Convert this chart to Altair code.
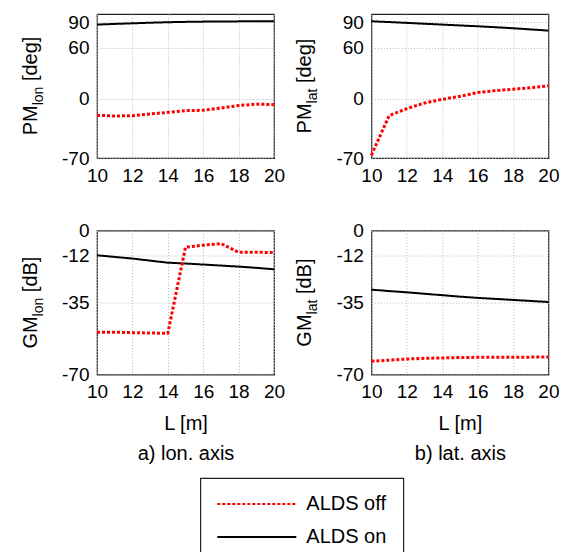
import altair as alt
import pandas as pd

# ---------------- data ----------------
L = list(range(10, 21))
series_names = ["ALDS off", "ALDS on"]

pm_lon_off = [-19.6, -20.4, -20.0, -18.1, -16.1, -14.0, -13.7, -11.0, -8.1, -6.3, -7.0]
pm_lon_on = [87.5, 88.3, 89.0, 89.7, 90.3, 90.7, 91.0, 91.2, 91.3, 91.4, 91.4]
pm_lat_off = [-66.8, -20.0, -11.7, -5.1, -0.7, 2.8, 7.2, 9.6, 11.1, 13.1, 15.0]
pm_lat_on = [91.4, 90.5, 89.5, 88.5, 87.5, 86.5, 85.5, 84.4, 83.2, 81.8, 80.4]
gm_lon_off = [-49.4, -49.4, -49.6, -49.8, -49.9, -8.1, -7.1, -6.3, -10.5, -10.5, -10.7]
gm_lon_on = [-12.0, -12.8, -13.6, -14.6, -15.6, -16.0, -16.5, -17.0, -17.5, -18.1, -18.8]
gm_lat_off = [-63.5, -63.0, -62.4, -62.1, -61.9, -61.7, -61.6, -61.6, -61.6, -61.5, -61.4]
gm_lat_on = [-28.7, -29.4, -30.0, -30.7, -31.4, -32.1, -32.7, -33.2, -33.7, -34.2, -34.7]

x_ticks = [10, 12, 14, 16, 18, 20]
pm_ticks = [-70, 0, 60, 90]
gm_ticks = [-70, -35, -12, 0]
pm_domain = [-70, 100]
gm_domain = [-70, 0]

# ---------------- style ----------------
FONT = "Liberation Sans"
W, H = 177, 144
SPX, SPY = 97.4, 72.6
TITLE_SIZE, SUB_SIZE = 20, 14

ARIAL = {'P': 0.667, 'M': 0.833, 'G': 0.778, 'B': 0.667, 'l': 0.222, 'o': 0.556,
         'n': 0.556, 'a': 0.556, 't': 0.278, ' ': 0.278, '[': 0.278, ']': 0.278,
         'd': 0.556, 'e': 0.556, 'g': 0.556}


def tw(s, size):
    return sum(ARIAL.get(c, 0.556) for c in s) * size


color_scale = alt.Scale(domain=series_names, range=["#ff0000", "#000000"])
dash_scale = alt.Scale(domain=series_names, range=[[3, 2], [1, 0]])


def panel_df(off, on):
    return pd.DataFrame({
        "L": L + L,
        "v": off + on,
        "s": [series_names[0]] * len(L) + [series_names[1]] * len(L),
    })


def text_layer(text, x, y, size):
    return alt.Chart(alt.Data(values=[{}])).mark_text(
        text=text, angle=270, align="left", baseline="alphabetic",
        font=FONT, fontSize=size, color="black"
    ).encode(x=alt.value(x), y=alt.value(y))


def panel(df, ydom, yticks, main, sub, rest, xtitle=None):
    xaxis_kw = dict(values=x_ticks)
    xaxis_kw["title"] = xtitle if xtitle is not None else ""
    base = alt.Chart(df).encode(
        x=alt.X("L:Q", scale=alt.Scale(domain=[10, 20], nice=False, zero=False),
                axis=alt.Axis(**xaxis_kw)),
        y=alt.Y("v:Q", scale=alt.Scale(domain=ydom, nice=False, zero=False),
                axis=alt.Axis(values=yticks, title="", labelExpr="'' + datum.value")),
        color=alt.Color("s:N", scale=color_scale, title=None),
        strokeDash=alt.StrokeDash("s:N", scale=dash_scale, title=None),
    )
    on = base.transform_filter(alt.datum.s == series_names[1]).mark_line(strokeWidth=2)
    off = base.transform_filter(alt.datum.s == series_names[0]).mark_line(strokeWidth=3)

    space = tw(" ", TITLE_SIZE)
    total = tw(main, TITLE_SIZE) + tw(sub, SUB_SIZE) + space + tw(rest, TITLE_SIZE)
    y0 = H / 2 + total / 2
    xb = -60
    t1 = text_layer(main, xb, y0, TITLE_SIZE)
    t2 = text_layer(sub, xb + 6, y0 - tw(main, TITLE_SIZE), SUB_SIZE)
    t3 = text_layer(rest, xb, y0 - tw(main, TITLE_SIZE) - tw(sub, SUB_SIZE) - space, TITLE_SIZE)
    return alt.layer(on, off, t1, t2, t3).properties(width=W, height=H)


p1 = panel(panel_df(pm_lon_off, pm_lon_on), pm_domain, pm_ticks, "PM", "lon", "[deg]")
p2 = panel(panel_df(pm_lat_off, pm_lat_on), pm_domain, pm_ticks, "PM", "lat", "[deg]")
p3 = panel(panel_df(gm_lon_off, gm_lon_on), gm_domain, gm_ticks, "GM", "lon", "[dB]",
           ["L [m]", "a) lon. axis"])
p4 = panel(panel_df(gm_lat_off, gm_lat_on), gm_domain, gm_ticks, "GM", "lat", "[dB]",
           ["L [m]", "b) lat. axis"])

chart = alt.concat(
    p1, p2, p3, p4, columns=2,
    spacing={"row": SPY, "column": SPX}, bounds="flush",
).properties(
    padding={"left": 20, "top": 12, "right": 2, "bottom": 0},
    background="white",
).configure_view(
    stroke="#222222", strokeWidth=1.2
).configure_axis(
    labelFont=FONT, labelFontSize=19, labelColor="black", labelPadding=8,
    labelFlush=False, labelOverlap=False,
    titleFont=FONT, titleFontSize=20, titleFontWeight="normal", titleColor="black",
    titleLineHeight=30, titlePadding=12,
    grid=True, gridColor="#b8b8b8", gridDash=[1, 2], gridWidth=1,
    ticks=False, domain=False,
).configure_legend(
    orient="none", legendX=103.3, legendY=464,
    strokeColor="#222222", strokeWidth=1.2, fillColor="white", padding=16, cornerRadius=0,
    labelFont=FONT, labelFontSize=20, labelColor="black", labelOffset=9,
    symbolType="stroke", symbolSize=6241, symbolStrokeWidth=2, rowPadding=13,
    clipHeight=20,
)

chart.save("out.html", embed_options={"renderer": "svg", "actions": False})
